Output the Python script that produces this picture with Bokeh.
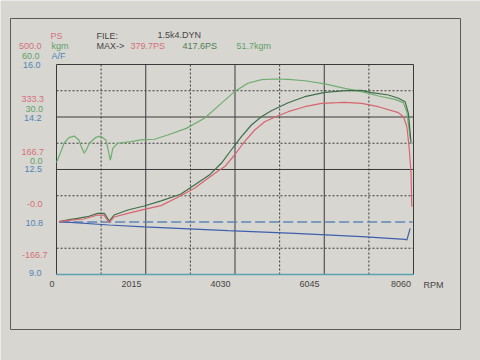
from bokeh.plotting import figure
from bokeh.models import Range1d
from bokeh.core.properties import value
from bokeh.embed import file_html
from bokeh.resources import INLINE

# ---------------- data ----------------
# torque (kgm), light green
rpm_tq = [0, 80, 170, 280, 400, 505, 560, 625, 680, 740, 890, 990, 1115, 1160, 1215, 1240,
          1270, 1380, 1680, 1910, 2210, 2510, 2930, 3340, 3720, 4020, 4320, 4630, 4930,
          5230, 5610, 6060, 6510, 6890, 7270, 7640, 7830, 7910, 7990]
tq_kgm = [4.0, 9.0, 15.0, 18.2, 19.1, 16.9, 13.0, 9.3, 11.5, 15.0, 18.4, 19.1, 16.9, 12.0,
          5.4, 8.0, 12.1, 15.0, 15.9, 16.9, 17.3, 19.7, 23.5, 29.3, 37.8, 44.5, 49.3, 51.4,
          51.7, 51.5, 50.7, 48.9, 46.4, 44.5, 42.0, 40.1, 38.2, 33.0, 17.0]

# power 2 (PS), dark green, max 417.6
rpm_p2 = [60, 320, 475, 700, 930, 1080, 1190, 1300, 1610, 1980, 2360, 2800, 3115, 3450,
          3720, 3945, 4175, 4400, 4625, 4850, 5230, 5605, 6060, 6510, 6890, 7115, 7495,
          7720, 7870, 7945, 8005]
p2_ps = [1, 8.6, 11.7, 16.8, 27.6, 27.6, 3, 22.2, 38.1, 50.8, 67, 88, 117.5, 149,
         186.4, 228.6, 270.8, 307.9, 334.3, 353.3, 378.7, 397.8, 411.7, 417.0, 417.6,
         410.5, 403.2, 392.7, 381.9, 345.1, 249.8]

# power (PS), red, max 379.7
rpm_ps = [60, 325, 620, 930, 1070, 1190, 1300, 1610, 1980, 2360, 2740, 3115, 3420, 3680,
          3800, 4020, 4245, 4475, 4700, 4925, 5230, 5605, 5985, 6360, 6510, 6890, 7265,
          7720, 7835, 7910, 7960, 8005, 8020]
ps_ps = [1, 6, 9.5, 22.2, 22, -2, 16, 27.6, 40.3, 52, 78.4, 107, 138.7, 165,
         176, 212.7, 254.9, 292.1, 318.4, 332.4, 350.2, 366.0, 376.8, 378.7, 379.7,
         376.8, 366.0, 347, 334.3, 302.5, 239, 154.6, 48.6]

# air/fuel ratio, blue
rpm_af = [60, 1190, 1980, 3870, 5380, 6890, 7870, 7910, 7985]
af_val = [10.76, 10.65, 10.59, 10.46, 10.37, 10.26, 10.17, 10.15, 10.54]

# A/F reference (dashed)
rpm_ref = [60, 8040]
af_ref = [10.75, 10.75]

# scales / ticks
X_MAX = 8060
PS_MIN, PS_MAX = -166.667, 500.0
KGM_MIN, KGM_MAX = -60.0, 60.0
AF_MIN, AF_MAX = 9.0, 16.0
x_solid = [2015, 4030, 6045]
x_dotted = [1007.5, 3022.5, 5037.5, 7052.5]
ps_solid = [333.333, 166.667]
ps_dotted = [416.667, 250.0, 83.333, -83.333]

x_tick_labels = ["0", "2015", "4030", "6045", "8060"]
ps_labels = ["333.3", "166.7", "-0.0", "-166.7"]
kgm_labels = ["30.0", "0.0"]
af_labels = ["16.0", "14.2", "12.5", "10.8", "9.0"]

# ---------------- colours ----------------
RED = "#d8646f"
DKGREEN = "#3f6f4a"
LTGREEN = "#6fae70"
BLUE = "#3d5fae"
BLUE2 = "#5c86b8"
TXT = "#454545"
RED_T = "#d4707b"
GRN_T = "#62a06a"
BLU_T = "#4f84b6"
PAPER = "#d8d6d1"
GRID = "#3a3a3a"

# ---------------- layout (pixel geometry of the inner chart) ----------------
W, H = 480, 360
FL, FR, FT, FB = 56.0, 413.0, 64.0, 274.0


def dx(px):
    return (px - FL) / (FR - FL) * X_MAX


def dy(py):
    return PS_MAX - (py - FT) / (FB - FT) * (PS_MAX - PS_MIN)


def scale_range(lo, hi):
    # extend an axis range (defined on the inner chart) to the full canvas
    top = hi + (FT - 0) / (FB - FT) * (hi - lo)
    bot = lo - (H - FB) / (FB - FT) * (hi - lo)
    return Range1d(bot, top)


p = figure(width=W, height=H, x_range=Range1d(dx(0), dx(W)), y_range=Range1d(dy(H), dy(0)),
           output_backend="svg", toolbar_location=None,
           x_axis_location=None, y_axis_location=None,
           min_border=0, min_border_left=0, min_border_right=0,
           min_border_top=0, min_border_bottom=0)
p.extra_y_ranges = {"kgm": scale_range(KGM_MIN, KGM_MAX), "af": scale_range(AF_MIN, AF_MAX)}
p.background_fill_color = PAPER
p.border_fill_color = PAPER
p.outline_line_color = None
p.grid.visible = False

# outer paper frame
p.line([dx(10), dx(460), dx(460), dx(10), dx(10)],
       [dy(18), dy(18), dy(329), dy(329), dy(18)], line_color="#5a5a5a", line_width=1)

# grid
p.segment(x0=x_solid, x1=x_solid, y0=[PS_MIN] * 3, y1=[PS_MAX] * 3,
          line_color=GRID, line_width=1)
p.segment(x0=x_dotted, x1=x_dotted, y0=[PS_MIN] * 4, y1=[PS_MAX] * 4,
          line_color=GRID, line_width=1, line_dash="2 2")
p.segment(x0=[0] * 2, x1=[X_MAX] * 2, y0=ps_solid, y1=ps_solid, line_color=GRID, line_width=1)
p.segment(x0=[0] * 4, x1=[X_MAX] * 4, y0=ps_dotted, y1=ps_dotted,
          line_color=GRID, line_width=1, line_dash="2 2")
# inner chart border
p.line([0, 0, X_MAX, X_MAX], [PS_MIN, PS_MAX, PS_MAX, PS_MIN], line_color=GRID, line_width=1)
p.line([0, X_MAX], [PS_MIN, PS_MIN], line_color="#5aa2b2", line_width=1.5)

# curves
p.line(rpm_ref, af_ref, y_range_name="af", line_color=BLUE2, line_width=1.6, line_dash="10 4")
p.line(rpm_af, af_val, y_range_name="af", line_color=BLUE, line_width=1.2)
p.line(rpm_tq, tq_kgm, y_range_name="kgm", line_color=LTGREEN, line_width=1.2)
p.line(rpm_p2, p2_ps, line_color=DKGREEN, line_width=1.2)
p.line(rpm_ps, ps_ps, line_color=RED, line_width=1.2)


def lab(texts, pxs, pys, color, align="left", size="9px"):
    p.text(x=[dx(v) for v in pxs], y=[dy(v) for v in pys], text=texts, text_color=color,
           text_align=align, text_baseline="middle", text_font=value("Liberation Sans"),
           text_font_size=size)


# header
lab(["PS"], [50], [35.5], RED_T)
lab(["kgm"], [51], [45], GRN_T)
lab(["A/F"], [51], [55], BLU_T)
lab(["500.0"], [41], [45], RED_T, "right")
lab(["60.0"], [39], [55], GRN_T, "right")
lab(["FILE:", "1.5k4.DYN", "MAX->"], [96, 157, 96], [35, 34.5, 45], TXT)
lab(["379.7PS"], [130], [45], RED_T)
lab(["417.6PS"], [182], [45], "#4f7f57")
lab(["51.7kgm"], [236], [45], GRN_T)

# left scale labels
lab(af_labels, [40, 41, 41.5, 42.5, 41], [64, 117.5, 168.5, 222, 272], BLU_T, "right")
lab(ps_labels, [43.5, 43.5, 42, 47], [98, 151, 203.5, 254], RED_T, "right")
lab(kgm_labels, [42.5, 42], [108, 160], GRN_T, "right")

# x labels (right aligned to grid lines)
lab(x_tick_labels, [54, 141, 230, 319, 410.5], [283] * 5, TXT, "right")
lab(["RPM"], [423], [284], TXT)

open("out.html", "w").write(file_html(p, INLINE))
